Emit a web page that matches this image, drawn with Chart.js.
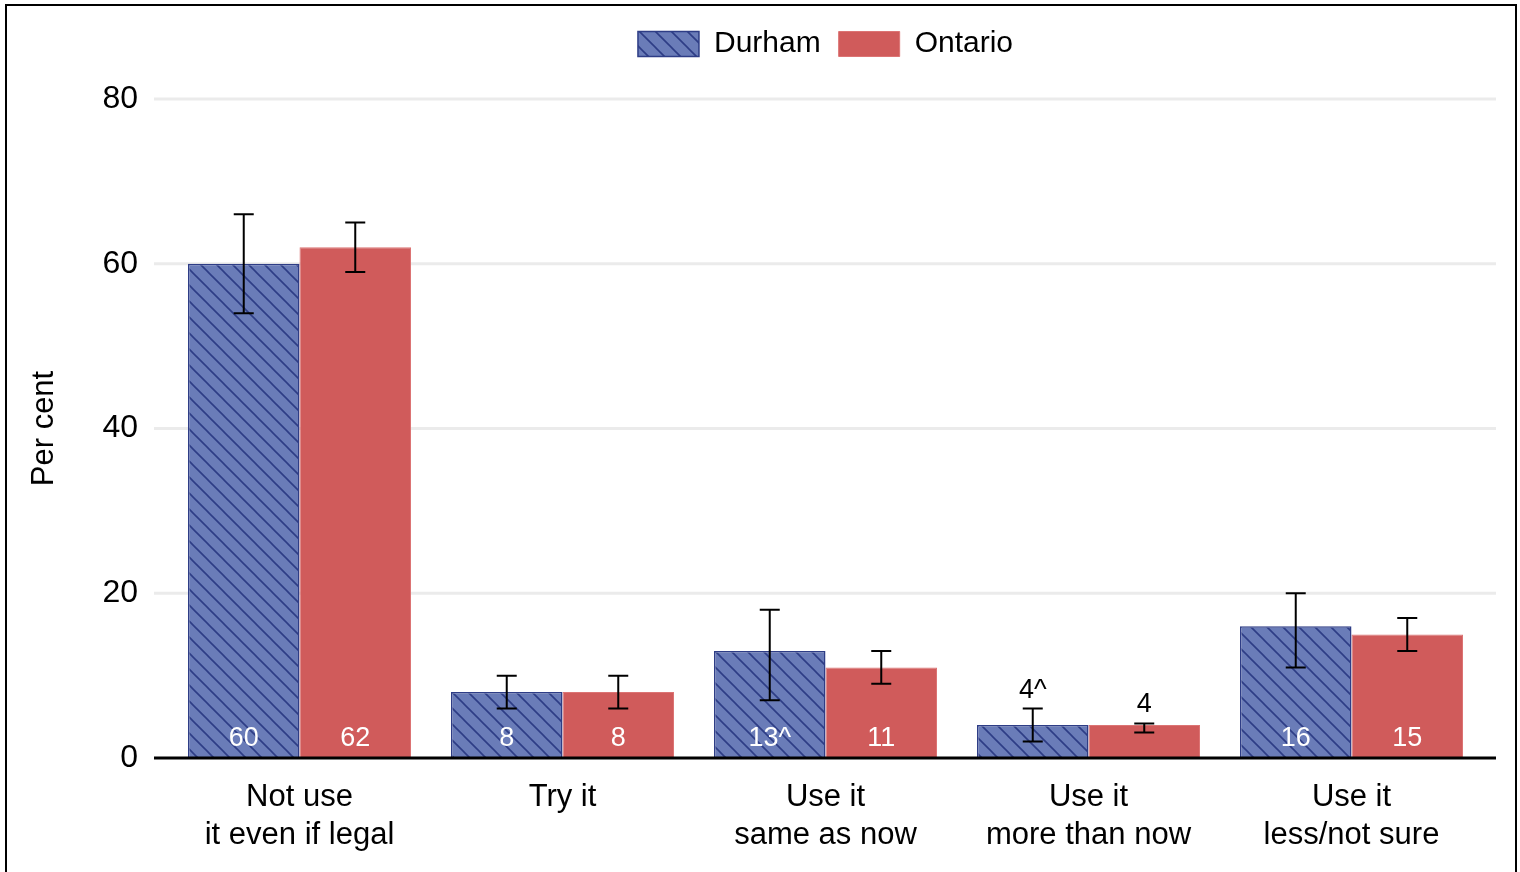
<!DOCTYPE html>
<html><head><meta charset="utf-8">
<script src="https://cdn.jsdelivr.net/npm/chart.js@4.4.0/dist/chart.umd.min.js"></script>
<style>
html,body{margin:0;padding:0;background:#fff;width:1520px;height:872px;overflow:hidden;}
#wrap{position:absolute;left:0;top:0;width:1520px;height:872px;}
#frame{position:absolute;left:5px;top:4px;width:1512px;height:900px;border:2px solid #000;box-sizing:border-box;pointer-events:none;}
</style></head><body>
<div id="wrap"><canvas id="c" width="1520" height="872"></canvas></div>
<div id="frame"></div>
<script>
const categories = [["Not use","it even if legal"],["Try it"],["Use it","same as now"],["Use it","more than now"],["Use it","less/not sure"]];
const seriesNames = ["Durham","Ontario"];
const durhamValues = [60, 8, 13, 4, 16];
const ontarioValues = [62, 8, 11, 4, 15];
const durhamLow = [54, 6, 7, 2, 11];
const durhamHigh = [66, 10, 18, 6, 20];
const ontarioLow = [59, 6, 9, 3.1, 13];
const ontarioHigh = [65, 10, 13, 4.2, 17];
const durhamLabels = ["60","8","13^","4^","16"];
const ontarioLabels = ["62","8","11","4","15"];
const yTicks = [0, 20, 40, 60, 80];

const FONT = "'Liberation Sans', Arial, sans-serif";
Chart.defaults.font.family = FONT;
Chart.defaults.color = '#000';

const canvas = document.getElementById('c');
const mainCtx = canvas.getContext('2d');

function makeHatch(){
  const s = 16;
  const t = document.createElement('canvas'); t.width = s; t.height = s;
  const g = t.getContext('2d');
  g.fillStyle = '#6A7CB8'; g.fillRect(0,0,s,s);
  g.strokeStyle = '#2E3D86'; g.lineWidth = 1.6;
  g.beginPath();
  g.moveTo(-2,-2); g.lineTo(s+2,s+2);
  g.moveTo(-2,s-2); g.lineTo(2,s+2);
  g.moveTo(s-2,-2); g.lineTo(s+2,2);
  g.stroke();
  return mainCtx.createPattern(t,'repeat');
}
const hatch = makeHatch();

const errLow = [durhamLow, ontarioLow];
const errHigh = [durhamHigh, ontarioHigh];
const valueLabels = [durhamLabels, ontarioLabels];

const legendSpace = {
  id: 'legendSpace',
  beforeInit(chart){
    const orig = chart.legend.fit;
    chart.legend.fit = function(){ orig.call(this); this.height += 30; };
  }
};

const decor = {
  id: 'decor',
  beforeDatasetsDraw(chart){
    const {ctx, chartArea: a, scales: {y}} = chart;
    ctx.save();
    ctx.strokeStyle = '#EBEBEB'; ctx.lineWidth = 3;
    yTicks.forEach(v => {
      if (v === 0) return;
      const py = y.getPixelForValue(v);
      ctx.beginPath(); ctx.moveTo(a.left - 14, py); ctx.lineTo(a.right + 13, py); ctx.stroke();
    });
    ctx.restore();
  },
  afterDatasetsDraw(chart){
    const {ctx, chartArea: a, scales: {y}} = chart;
    ctx.save();
    const y0 = y.getPixelForValue(0);
    ctx.strokeStyle = '#000'; ctx.lineWidth = 3;
    ctx.beginPath(); ctx.moveTo(a.left - 14, y0); ctx.lineTo(a.right + 13, y0); ctx.stroke();
    ctx.lineWidth = 2;
    chart.data.datasets.forEach((ds, di) => {
      const meta = chart.getDatasetMeta(di);
      meta.data.forEach((el, i) => {
        const x = el.x;
        const yl = y.getPixelForValue(errLow[di][i]);
        const yh = y.getPixelForValue(errHigh[di][i]);
        ctx.beginPath();
        ctx.moveTo(x, yl); ctx.lineTo(x, yh);
        ctx.moveTo(x - 10, yl); ctx.lineTo(x + 10, yl);
        ctx.moveTo(x - 10, yh); ctx.lineTo(x + 10, yh);
        ctx.stroke();
      });
    });
    ctx.textAlign = 'center'; ctx.textBaseline = 'alphabetic';
    ctx.font = "27px " + FONT;
    chart.data.datasets.forEach((ds, di) => {
      const meta = chart.getDatasetMeta(di);
      meta.data.forEach((el, i) => {
        const v = ds.data[i];
        const txt = valueLabels[di][i];
        if (v >= 6) {
          ctx.fillStyle = '#fff';
          ctx.fillText(txt, el.x, y0 - 12);
        } else {
          ctx.fillStyle = '#000';
          ctx.fillText(txt, el.x, y.getPixelForValue(errHigh[di][i]) - 11);
        }
      });
    });
    ctx.restore();
  }
};

new Chart(canvas, {
  type: 'bar',
  data: {
    labels: categories,
    datasets: [
      { label: seriesNames[0], data: durhamValues, backgroundColor: hatch, borderColor: '#2E3D86', borderWidth: 1.5,
        categoryPercentage: 0.848, barPercentage: 1.0 },
      { label: seriesNames[1], data: ontarioValues, backgroundColor: '#D05B5B', borderColor: '#DC7474', borderWidth: 1,
        categoryPercentage: 0.848, barPercentage: 1.0 }
    ]
  },
  options: {
    responsive: false,
    animation: false,
    devicePixelRatio: 1,
    layout: { padding: { left: 0, right: 37, top: 11, bottom: 0 } },
    plugins: {
      legend: {
        position: 'top',
        fullSize: false,
        labels: { boxWidth: 61, boxHeight: 25, padding: 18, font: { size: 30 }, color: '#000' }
      },
      tooltip: { enabled: false }
    },
    scales: {
      x: {
        grid: { display: false, drawTicks: false },
        border: { display: false },
        ticks: { font: { size: 31, lineHeight: 1.21 }, color: '#000', padding: 21, maxRotation: 0, autoSkip: false },
        afterFit(scale){ scale.height = 114; }
      },
      y: {
        min: 0, max: 80,
        grid: { display: false, drawTicks: false },
        border: { display: false },
        ticks: { stepSize: 20, font: { size: 32 }, color: '#000', padding: 30 },
        title: { display: true, text: 'Per cent', font: { size: 31 }, color: '#000', padding: { top: 26, bottom: 0 } },
        afterFit(scale){ scale.width = 168; }
      }
    }
  },
  plugins: [legendSpace, decor]
});
</script>
</body></html>
